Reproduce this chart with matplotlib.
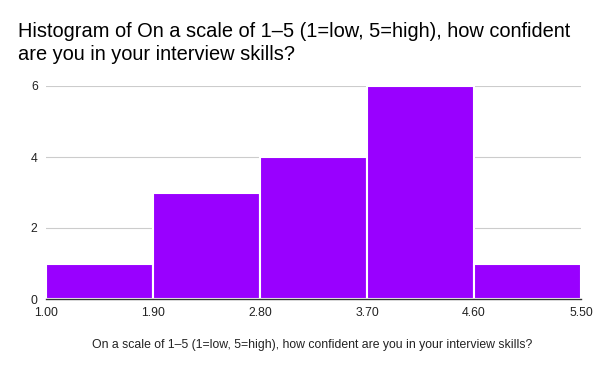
import matplotlib
matplotlib.use("Agg")
import matplotlib.pyplot as plt

bin_edges = [1.00, 1.90, 2.80, 3.70, 4.60, 5.50]
counts = [1, 3, 4, 6, 1]
tick_labels = ["1.00", "1.90", "2.80", "3.70", "4.60", "5.50"]
y_ticks = [0, 2, 4, 6]
title = "Histogram of On a scale of 1\u20135 (1=low, 5=high), how confident\nare you in your interview skills?"
xlabel = "On a scale of 1\u20135 (1=low, 5=high), how confident are you in your interview skills?"

plt.rcParams['font.family'] = ['Liberation Sans', 'DejaVu Sans']

fig = plt.figure(figsize=(6, 3.71), dpi=100)
ax = fig.add_axes([46/600, 1-299/371, 535/600, (299-86)/371])

lefts = bin_edges[:-1]
widths = [bin_edges[i+1] - bin_edges[i] for i in range(len(counts))]
ax.bar(lefts, counts, width=widths, align='edge', color='#9900ff',
       edgecolor='white', linewidth=1.5, zorder=2)

ax.set_xlim(bin_edges[0], bin_edges[-1])
ax.set_ylim(0, 6)
ax.set_yticks(y_ticks)
ax.set_yticklabels([str(v) for v in y_ticks], fontsize=8.8, color='#222222')
ax.set_xticks(bin_edges)
ax.set_xticklabels(tick_labels, fontsize=8.8, color='#222222')
ax.tick_params(length=0)
ax.tick_params(axis='y', pad=6)
ax.tick_params(axis='x', pad=6)
ax.grid(axis='y', color='#cccccc', linewidth=0.8, zorder=0)
for s in ['top', 'right', 'left']:
    ax.spines[s].set_visible(False)
ax.spines['bottom'].set_color('#333333')
ax.spines['bottom'].set_linewidth(1)
ax.spines['bottom'].set_zorder(3)

fig.text(18/600, 1-22/371, title, fontsize=14.4, ha='left', va='top', color='#000000', linespacing=1.3)
fig.text(0.5 * (93+532)/600, 1-345/371, xlabel, fontsize=8.8, ha='center', va='center', color='#222222')

fig.savefig("out.png", dpi=100)
